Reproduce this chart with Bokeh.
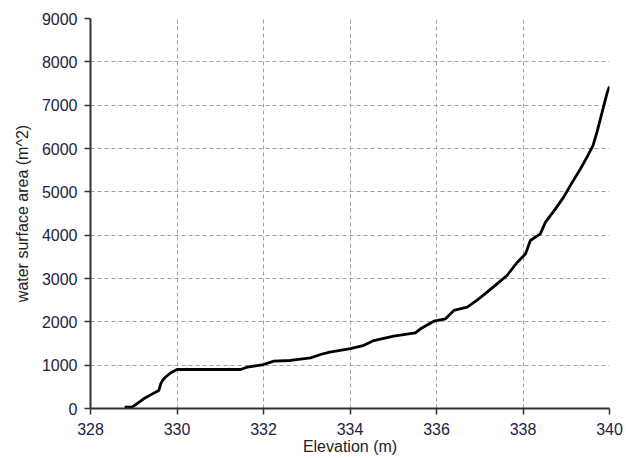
from bokeh.plotting import figure
from bokeh.models import FixedTicker, Range1d
from bokeh.embed import file_html
from bokeh.resources import INLINE

elevation = [328.79, 328.96, 329.10, 329.23, 329.40, 329.58, 329.62, 329.66, 329.73, 329.85,
             330.0, 330.5, 331.0, 331.47, 331.62, 332.0, 332.24, 332.62, 333.09, 333.32,
             333.53, 334.01, 334.30, 334.55, 335.01, 335.51, 335.63, 335.94, 336.21, 336.40,
             336.71, 336.94, 337.17, 337.40, 337.63, 337.87, 338.06, 338.17, 338.40, 338.52,
             338.75, 338.94, 339.14, 339.33, 339.48, 339.62, 339.71, 339.83, 339.95, 340.0]
area = [30, 30, 130, 223, 320, 415, 560, 640, 722, 820,
        900, 900, 900, 900, 953, 1015, 1092, 1108, 1170, 1246,
        1300, 1380, 1450, 1569, 1669, 1747, 1839, 2015, 2070, 2262,
        2338, 2500, 2685, 2877, 3069, 3376, 3570, 3877, 4031, 4300,
        4608, 4877, 5223, 5532, 5800, 6070, 6377, 6838, 7300, 7431]

x_ticks = [328, 330, 332, 334, 336, 338, 340]
y_ticks = [0, 1000, 2000, 3000, 4000, 5000, 6000, 7000, 8000, 9000]

p = figure(width=625, height=457, output_backend="svg", toolbar_location=None,
           x_range=Range1d(328, 340), y_range=Range1d(0, 9000),
           min_border_left=90, min_border_right=16, min_border_top=18, min_border_bottom=49)
p.outline_line_color = None
p.background_fill_color = "white"
p.border_fill_color = "white"

p.line(elevation, area, line_color="black", line_width=2.8)

font = "Liberation Sans"
for ax in (p.xaxis[0], p.yaxis[0]):
    ax.axis_line_color = "#333333"
    ax.axis_line_width = 2
    ax.major_tick_line_color = "#333333"
    ax.major_tick_line_width = 1.5
    ax.major_tick_out = 6
    ax.major_tick_in = 0
    ax.minor_tick_line_color = None
    ax.major_label_text_font = font
    ax.major_label_text_font_size = "16px"
    ax.major_label_text_color = "#222244"
    ax.axis_label_text_font = font
    ax.axis_label_text_font_size = "16px"
    ax.axis_label_text_font_style = "normal"
    ax.axis_label_text_color = "#222222"

p.xaxis[0].ticker = FixedTicker(ticks=x_ticks)
p.yaxis[0].ticker = FixedTicker(ticks=y_ticks)
p.xaxis[0].axis_label = "Elevation (m)"
p.yaxis[0].axis_label = "water surface area (m^2)"
p.xaxis[0].major_label_standoff = 8
p.yaxis[0].major_label_standoff = 7
p.xaxis[0].axis_label_standoff = 0
p.yaxis[0].axis_label_standoff = 8

for g in (p.xgrid[0], p.ygrid[0]):
    g.grid_line_color = "#a0a0a0"
    g.grid_line_dash = "4 3"
    g.grid_line_width = 1

open("out.html", "w").write(file_html(p, INLINE))
